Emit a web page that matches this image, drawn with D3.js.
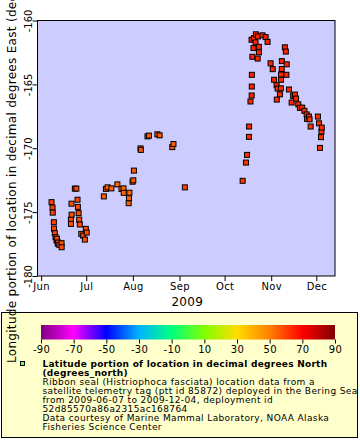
<!DOCTYPE html>
<html>
<head>
<meta charset="utf-8">
<script src="https://cdn.jsdelivr.net/npm/d3@7"></script>
<style>
  body { margin: 0; background: #fff; }
  svg { display: block; font-family: "DejaVu Sans", sans-serif; }
</style>
</head>
<body>
<script>
const WIDTH = 360;
const HEIGHT = 440;

// track points: time (UTC), longitude (deg E), latitude (deg N)
const dates = [
  "2009-06-07T22", "2009-06-08T14", "2009-06-08T17", "2009-06-09T11", "2009-06-09T13",
  "2009-06-10T02", "2009-06-10T14", "2009-06-11T06", "2009-06-11T10", "2009-06-12T02",
  "2009-06-12T07", "2009-06-13T02", "2009-06-14T14", "2009-06-14T15",
  "2009-06-20T19", "2009-06-20T20", "2009-06-21T05", "2009-06-21T07", "2009-06-23T10",
  "2009-06-24T10", "2009-06-25T05", "2009-06-25T10", "2009-06-25T22", "2009-06-26T07",
  "2009-06-26T17", "2009-06-27T17", "2009-06-28T22", "2009-06-30T02", "2009-06-30T17",
  "2009-07-01T07",
  "2009-07-12T17", "2009-07-14T02", "2009-07-15T05", "2009-07-17T17", "2009-07-21T17",
  "2009-07-24T10", "2009-07-25T19", "2009-07-25T22", "2009-07-29T05", "2009-07-29T10",
  "2009-07-29T17", "2009-07-31T19", "2009-08-01T07", "2009-08-01T17",
  "2009-08-06T02", "2009-08-06T07", "2009-08-10T17", "2009-08-11T17", "2009-08-17T07",
  "2009-08-18T19", "2009-08-27T05", "2009-08-28T00", "2009-09-04T14",
  "2009-10-13T00", "2009-10-15T05", "2009-10-15T22", "2009-10-17T05", "2009-10-17T07",
  "2009-10-18T05", "2009-10-18T22", "2009-10-19T00", "2009-10-19T02", "2009-10-19T03",
  "2009-10-19T12", "2009-10-20T05", "2009-10-20T12", "2009-10-21T14", "2009-10-21T19",
  "2009-10-23T00", "2009-10-23T05", "2009-10-23T19", "2009-10-23T20", "2009-10-26T05",
  "2009-10-28T07", "2009-10-29T14",
  "2009-10-31T14", "2009-11-02T00", "2009-11-02T22", "2009-11-04T14", "2009-11-04T17",
  "2009-11-05T07", "2009-11-06T19", "2009-11-07T11", "2009-11-07T12", "2009-11-07T13",
  "2009-11-08T00", "2009-11-08T02", "2009-11-10T02", "2009-11-10T17", "2009-11-11T02",
  "2009-11-11T07", "2009-11-12T19", "2009-11-14T14", "2009-11-15T14", "2009-11-16T19",
  "2009-11-17T12", "2009-11-19T00", "2009-11-20T02", "2009-11-21T14", "2009-11-23T02",
  "2009-11-24T14", "2009-11-24T19", "2009-11-26T02", "2009-11-26T12", "2009-11-27T05",
  "2009-12-02T02", "2009-12-02T19", "2009-12-03T10", "2009-12-04T02", "2009-12-04T10",
  "2009-12-04T14"
];
const lons = [
  -174.22, -174.64, -175.04, -175.79, -176.29,
  -176.65, -176.96, -177.23, -177.08, -177.47,
  -177.38, -177.56, -177.43, -177.75,
  -175.59, -175.92, -174.34, -175.20, -173.16,
  -173.16, -174.03, -174.59, -175.08, -175.59,
  -175.97, -176.70, -176.84, -177.15, -176.31,
  -176.60,
  -173.77, -173.18, -173.06, -173.14, -172.83,
  -173.19, -173.14, -173.49, -174.30, -173.91,
  -173.48, -172.62, -172.51, -171.75,
  -170.01, -170.13, -169.07, -169.01, -168.91,
  -168.99, -169.91, -169.67, -173.06,
  -172.55, -171.12, -170.52, -169.11, -168.30,
  -166.34, -161.51, -165.87, -165.17, -164.25,
  -162.84, -162.16, -161.38, -161.71, -161.08,
  -162.98, -161.25, -162.06, -162.49, -161.16,
  -161.30, -161.67,
  -163.35, -163.81, -164.64, -165.07, -166.19,
  -165.33, -165.78, -165.31, -164.23, -164.64,
  -163.80, -163.18, -162.10, -162.43, -164.25,
  -163.43, -165.40, -166.42, -165.90, -165.80,
  -166.11, -166.56, -166.84, -166.82, -167.07,
  -167.35, -167.70, -167.52, -167.74, -168.30,
  -167.52, -168.05, -169.97, -169.13, -168.69,
  -168.38
];
const lats = [
  60.5, 60.2, 60.0, 59.6, 59.4,
  59.2, 59.0, 58.8, 58.8, 58.7,
  58.9, 58.5, 58.6, 58.4,
  58.0, 57.8, 57.2, 58.0, 59.6,
  59.5, 59.0, 58.6, 58.3, 58.2,
  58.0, 58.1, 58.0, 57.8, 58.5,
  58.3,
  55.5, 55.0, 55.0, 54.8, 54.5,
  54.6, 54.6, 54.8, 54.8, 54.6,
  54.4, 55.2, 55.6, 56.5,
  57.0, 57.2, 57.4, 57.5, 57.2,
  57.0, 56.0, 56.2, 60.0,
  61.5, 62.5, 62.8, 63.5, 63.8,
  64.2, 64.8, 64.2, 64.3, 64.3,
  64.5, 64.6, 64.8, 64.6, 64.9,
  64.4, 64.8, 64.6, 64.5, 64.9,
  64.8, 64.6,
  64.3, 64.1, 64.0, 63.8, 63.5,
  63.8, 63.6, 63.8, 64.0, 63.9,
  64.1, 64.3, 64.6, 64.4, 64.0,
  64.2, 63.7, 63.4, 63.6, 63.6,
  63.4, 63.2, 63.0, 63.0, 62.8,
  62.6, 62.6, 62.6, 62.5, 62.2,
  62.6, 62.3, 61.8, 62.0, 62.2,
  62.4
];

const lonTicks = [-180, -175, -170, -165, -160];
const colorTicks = [-90, -70, -50, -30, -10, 10, 30, 50, 70, 90];
const colorStops = ["#7f0080", "#ff00ff", "#0000ff", "#00b4ff", "#00ff80",
                    "#80ff00", "#ffdd00", "#ff8000", "#ff0000", "#7f0000"];
const legendTitle = ["Latitude portion of location in decimal degrees North", "(degrees_north)"];
const legendLines = [
  "Ribbon seal (Histriophoca fasciata) location data from a",
  "satellite telemetry tag (ptt id 85872) deployed in the Bering Sea",
  "from 2009-06-07 to 2009-12-04, deployment id",
  "52d85570a86a2315ac168764",
  "Data courtesy of Marine Mammal Laboratory, NOAA Alaska",
  "Fisheries Science Center"
];

const plot = { left: 37.5, right: 335, top: 20.5, bottom: 276 };
const parseTime = d3.utcParse("%Y-%m-%dT%H");
const points = dates.map((d, i) => ({ t: parseTime(d), lon: lons[i], lat: lats[i] }));

const x = d3.scaleUtc()
  .domain([new Date(Date.UTC(2009, 4, 29, 14)), new Date(Date.UTC(2009, 11, 13, 10))])
  .range([plot.left, plot.right]);
const y = d3.scaleLinear().domain([-180, -160]).range([plot.bottom, plot.top]);
const color = d3.scaleLinear().domain(colorTicks).range(colorStops);

const svg = d3.select("body").append("svg")
  .attr("width", WIDTH)
  .attr("height", HEIGHT)
  .attr("viewBox", [0, 0, WIDTH, HEIGHT]);

svg.append("rect")
  .attr("x", plot.left).attr("y", plot.top)
  .attr("width", plot.right - plot.left).attr("height", plot.bottom - plot.top)
  .attr("fill", "#ccccff");

svg.append("g")
  .selectAll("rect")
  .data(points)
  .join("rect")
    .attr("x", d => x(d.t) - 2.5)
    .attr("y", d => y(d.lon) - 2.5)
    .attr("width", 5)
    .attr("height", 5)
    .attr("fill", d => color(d.lat))
    .attr("stroke", "#000")
    .attr("stroke-width", 1);

svg.append("rect")
  .attr("x", plot.left).attr("y", plot.top)
  .attr("width", plot.right - plot.left).attr("height", plot.bottom - plot.top)
  .attr("fill", "none").attr("stroke", "#000");

// x axis
const xAxis = svg.append("g")
  .attr("transform", `translate(0,${plot.bottom})`)
  .call(d3.axisBottom(x).ticks(d3.utcMonth.every(1)).tickFormat(d3.utcFormat("%b")).tickSize(5).tickSizeOuter(0));
xAxis.select(".domain").remove();
xAxis.selectAll("text").attr("font-size", 10).attr("font-family", "DejaVu Sans")
  .attr("letter-spacing", 0.3).attr("dy", "0.6em").attr("fill", "#000");

svg.append("text")
  .attr("x", (plot.left + plot.right) / 2 + 1)
  .attr("y", 306)
  .attr("text-anchor", "middle")
  .attr("font-size", 12)
  .attr("letter-spacing", 0.3)
  .text("2009");

// y axis, labels rotated
const yAxis = svg.append("g")
  .attr("transform", `translate(${plot.left},0)`)
  .call(d3.axisLeft(y).tickValues(lonTicks).tickFormat(d => String(d)).tickSize(5).tickSizeOuter(0));
yAxis.select(".domain").remove();
yAxis.selectAll("text")
  .attr("font-size", 10).attr("font-family", "DejaVu Sans").attr("fill", "#000")
  .attr("x", null).attr("dy", null)
  .attr("text-anchor", "middle")
  .attr("transform", "translate(-5.5,0) rotate(-90)");

// legend box
svg.append("rect")
  .attr("x", 1.5).attr("y", 312.5)
  .attr("width", 356).attr("height", 125)
  .attr("fill", "#ffffcc").attr("stroke", "#000");

const cbar = { left: 41, right: 335, top: 325, bottom: 339.5 };
const cx = d3.scaleLinear().domain([-90, 90]).range([cbar.left, cbar.right]);
const grad = svg.append("defs").append("linearGradient").attr("id", "cbar");
grad.selectAll("stop")
  .data(colorTicks)
  .join("stop")
    .attr("offset", d => (d + 90) / 180)
    .attr("stop-color", d => color(d));
svg.append("rect")
  .attr("x", cbar.left).attr("y", cbar.top)
  .attr("width", cbar.right - cbar.left).attr("height", cbar.bottom - cbar.top)
  .attr("fill", "url(#cbar)");
const cAxis = svg.append("g")
  .attr("transform", `translate(0,${cbar.bottom})`)
  .call(d3.axisBottom(cx).tickValues(colorTicks).tickFormat(d => String(d)).tickSize(4).tickSizeOuter(0));
cAxis.select(".domain").remove();
cAxis.selectAll("text").attr("font-size", 10).attr("font-family", "DejaVu Sans")
  .attr("letter-spacing", 0.3).attr("fill", "#000").attr("dy", "0.6em");

svg.append("rect")
  .attr("x", 20.5).attr("y", 361.5).attr("width", 4).attr("height", 4)
  .attr("fill", "#66ff66").attr("stroke", "#000");

svg.append("g")
  .selectAll("text")
  .data(legendTitle.concat(legendLines))
  .join("text")
    .attr("x", 42.5)
    .attr("y", (d, i) => 366.5 + i * 9.1)
    .attr("font-size", 9)
    .attr("letter-spacing", (d, i) => i < legendTitle.length ? 0.26 : 0.38)
    .attr("font-weight", (d, i) => i < legendTitle.length ? "bold" : "normal")
    .text(d => d);

// y title drawn last, over the legend box as in the original
svg.append("text")
  .attr("transform", "translate(15.5,363) rotate(-90)")
  .attr("font-size", 12)
  .attr("letter-spacing", 0.3)
  .text("Longitude portion of location in decimal degrees East (degrees_east)");
</script>
</body>
</html>
